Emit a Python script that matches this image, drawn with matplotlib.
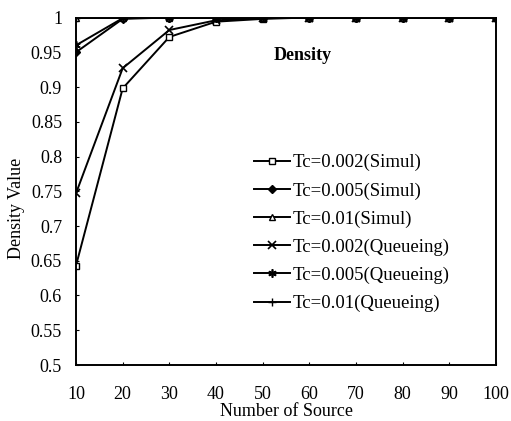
import matplotlib
matplotlib.use("Agg")
import matplotlib.pyplot as plt
from matplotlib.ticker import MultipleLocator, FuncFormatter

plt.rcParams['font.family'] = ['Liberation Serif', 'DejaVu Serif']

sources = [10, 20, 30, 40, 50, 60, 70, 80, 90, 100]
simul_002 = [0.643, 0.898, 0.972, 0.994, 0.998, 1.0, 1.0, 1.0, 1.0, 1.0]
simul_005 = [0.950, 0.998, 1.0, 1.0, 1.0, 1.0, 1.0, 1.0, 1.0, 1.0]
simul_01 = [1.0, 1.0, 1.0, 1.0, 1.0, 1.0, 1.0, 1.0, 1.0, 1.0]
queue_002 = [0.747, 0.927, 0.982, 0.996, 0.999, 1.0, 1.0, 1.0, 1.0, 1.0]
queue_005 = [0.960, 0.999, 1.0, 1.0, 1.0, 1.0, 1.0, 1.0, 1.0, 1.0]
queue_01 = [1.0, 1.0, 1.0, 1.0, 1.0, 1.0, 1.0, 1.0, 1.0, 1.0]
labels = ["Tc=0.002(Simul)", "Tc=0.005(Simul)", "Tc=0.01(Simul)",
          "Tc=0.002(Queueing)", "Tc=0.005(Queueing)", "Tc=0.01(Queueing)"]

fig = plt.figure(figsize=(5.11, 4.21), dpi=100)
ax = fig.add_axes([76/511, 1-365/421, 420/511, (365-17.5)/421])

series = [simul_002, simul_005, simul_01, queue_002, queue_005, queue_01]
styles = [
    dict(marker='s', mfc='white', ms=5),
    dict(marker='D', mfc='black', ms=4),
    dict(marker='^', mfc='white', ms=5),
    dict(marker='x', ms=6, mew=1.2),
    dict(marker=(6, 2, 0), ms=6, mew=1.2),
    dict(marker='+', ms=6, mew=1.0),
]
for vals, lab, st in zip(series, labels, styles):
    ax.plot(sources, vals, color='black', lw=1.4, mec='black', label=lab, **st)

ax.set_xlim(10, 100)
ax.set_ylim(0.5, 1.0)
ax.set_xticks(sources)
ax.yaxis.set_major_locator(MultipleLocator(0.05))
ax.yaxis.set_major_formatter(FuncFormatter(lambda v, p: f"{v:.2f}".rstrip('0').rstrip('.')))
ax.tick_params(direction='in', length=2, labelsize=13, colors='black')
ax.tick_params(axis='x', pad=15)
ax.tick_params(axis='y', pad=10)
for s in ax.spines.values():
    s.set_linewidth(1.4)

ax.set_xlabel("Number of Source", fontsize=13, labelpad=0)
ax.set_ylabel("Density Value", fontsize=13)
ax.yaxis.set_label_coords(-0.122, 0.45)

fig.text(303/511, 1 - 56/421, "Density", fontsize=13, fontweight='bold',
         ha='center', va='center')

leg = ax.legend(loc='upper left', bbox_to_anchor=((254-76)/420, 1 - (154-17.5)/347.5),
                frameon=False, fontsize=13.5, handlelength=1.9, handletextpad=0.15,
                labelspacing=0.58, borderaxespad=0, borderpad=0)

fig.savefig("out.png", dpi=100)
